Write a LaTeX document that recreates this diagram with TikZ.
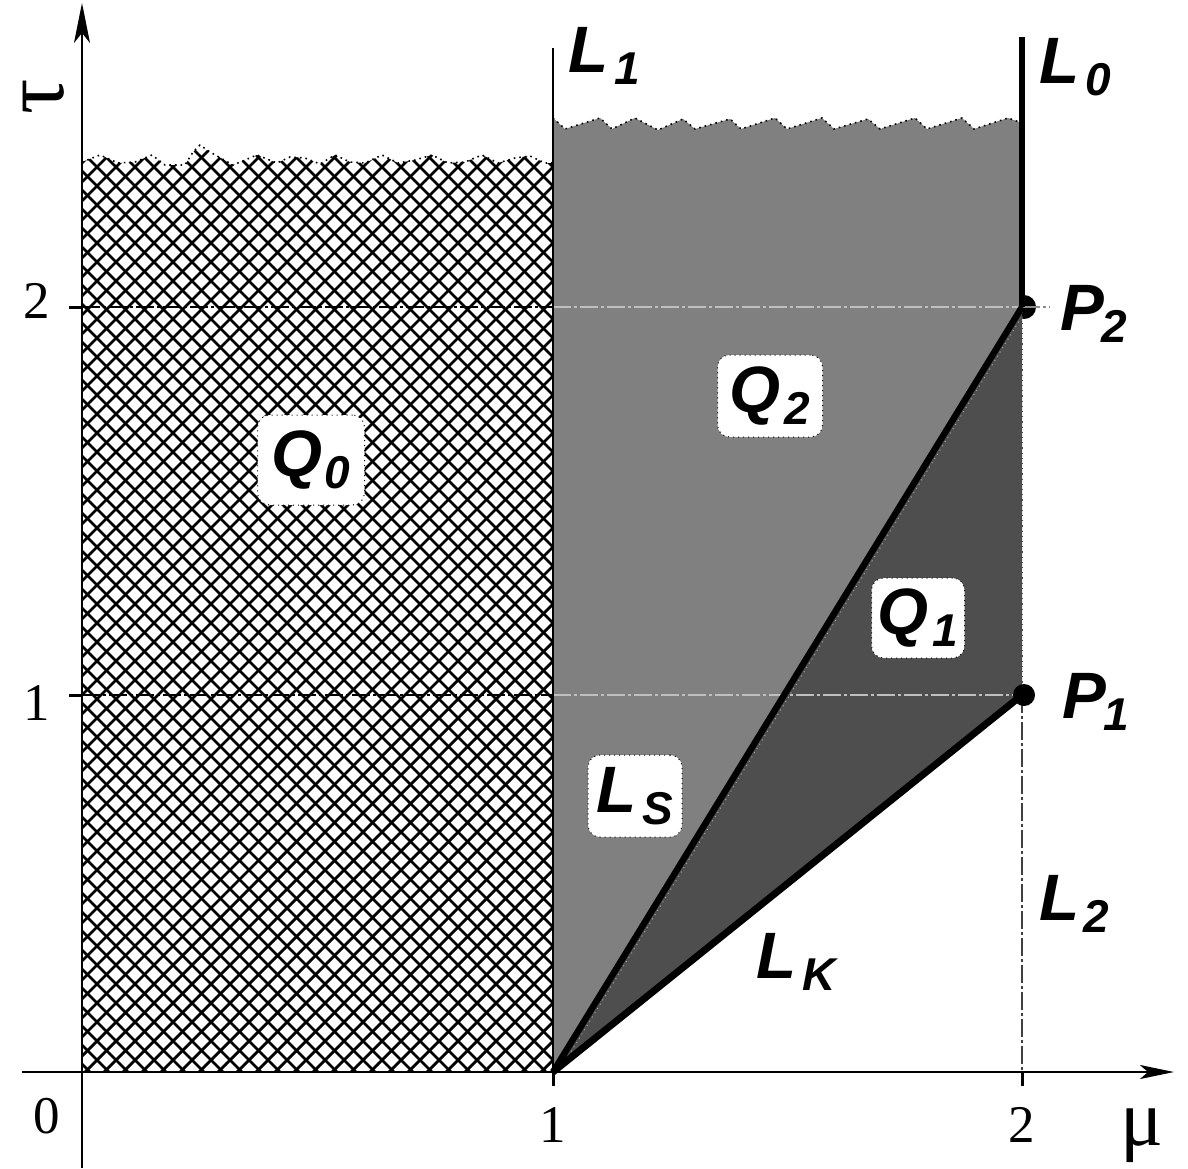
\documentclass[tikz,border=0pt]{standalone}
\usepackage{fontspec}
\setmainfont{Liberation Serif}
\newfontfamily\lsans{Liberation Sans}
\usetikzlibrary{arrows.meta}
\newcommand\lbl[3][2.5pt]{{\lsans\bfseries\itshape\fontsize{32.8}{36}\selectfont #2\hspace{#1}\raisebox{-6pt}{\fontsize{23}{26}\selectfont #3}}}
\definecolor{midgray}{RGB}{128,128,128}
\definecolor{darkgray}{RGB}{78,78,78}
\tikzset{
  hatchline/.style={line width=1.4pt,black},
  qbox/.style={fill=white,draw=black,dotted,line width=0.5pt,rounded corners=6pt,inner sep=0pt,align=center},
  lbltext/.style={anchor=base west,inner sep=0pt},
  ticklbl/.style={anchor=base,inner sep=0pt,font=\fontsize{26.5}{30}\selectfont},
  thickline/.style={line width=3.2pt,black},
  levelline/.style={line width=0.75pt,dash pattern=on 9pt off 1.5pt on 1.5pt off 1.5pt},
  axisline/.style={line width=1pt,black},
  tickmark/.style={line width=1.5pt,black},
}
\begin{document}
\begin{tikzpicture}[x=0.5pt,y=-0.5pt]
\useasboundingbox (0,0) rectangle (1188,1168);
% named points
\coordinate (O) at (82,1072);
\coordinate (A1) at (553,1072);
\coordinate (A2) at (1022,1072);
\coordinate (P1) at (1022,695);
\coordinate (P2) at (1022,307);
\coordinate (L1top) at (553,48);
\coordinate (L0top) at (1022,37);
\coordinate (L2bot) at (1022,1085);
\coordinate (T1) at (82,695);
\coordinate (T2) at (82,307);
\coordinate (T1e) at (1022,695);
\coordinate (T2e) at (1050,307);
\coordinate (T1m) at (553,695);
\coordinate (T2m) at (553,307);
\coordinate (E1) at (566,1060);
\coordinate (E2) at (1021,318);

% Q0 hatched region
\begin{scope}
\clip (82,1072) -- plot coordinates {(82,162) (100,155) (118,163) (135,162) (152,155) (165,165) (185,165) (193,152) (200,145) (210,152) (233,165) (257,155) (277,163) (290,157) (305,158) (320,164) (335,155) (350,162) (365,163) (382,155) (398,163) (415,160) (432,155) (448,163) (465,162) (482,155) (498,163) (515,158) (530,156) (545,163) (553,163)} -- (553,1072) -- cycle;
\foreach \a in {-922,-903,...,560} {
  \draw[hatchline] (\a,1072) -- ++(1000,-1000);
}
\foreach \a in {-929,-910,...,560} {
  \draw[hatchline] (\a,72) -- ++(1000,1000);
}
\end{scope}
\draw[dotted,line width=0.8pt] plot coordinates {(82,162) (100,155) (118,163) (135,162) (152,155) (165,165) (185,165) (193,152) (200,145) (210,152) (233,165) (257,155) (277,163) (290,157) (305,158) (320,164) (335,155) (350,162) (365,163) (382,155) (398,163) (415,160) (432,155) (448,163) (465,162) (482,155) (498,163) (515,158) (530,156) (545,163) (553,163)};

% P2 dot (partly covered)
\fill[black] (1024,307) circle (12);

% Q2 gray region
\fill[midgray] (A1) -- plot coordinates {(553,118) (565,129) (600,118) (612,129) (635,118) (658,130) (683,119) (695,129) (730,119) (741,129) (775,118) (787,129) (822,118) (834,129) (868,119) (880,129) (915,118) (927,129) (962,118) (974,129) (1008,118) (1022,123)} -- (P2) -- cycle;
\draw[dotted,line width=0.8pt] plot coordinates {(553,118) (565,129) (600,118) (612,129) (635,118) (658,130) (683,119) (695,129) (730,119) (741,129) (775,118) (787,129) (822,118) (834,129) (868,119) (880,129) (915,118) (927,129) (962,118) (974,129) (1008,118) (1022,123)};

% Q1 dark region
\fill[darkgray] (A1) -- (P2) -- (P1) -- cycle;
\draw[dotted,line width=0.5pt,black!35] (E1) -- (E2);

% level lines
\draw[levelline,black] (T2) -- (T2m);
\draw[levelline,black!25] (T2m) -- (P2);
\draw[levelline,black!45] (P2) -- (T2e);
\draw[levelline,black] (T1) -- (T1m);
\draw[levelline,black!25] (T1m) -- (T1e);

% thin lines
\draw[line width=0.8pt,black] (L1top) -- (A1);
\draw[line width=0.7pt,black!75,dash pattern=on 9pt off 1.5pt on 1.5pt off 1.5pt] (P1) -- (L2bot);
\draw[line width=0.6pt,black!70,dotted] (P2) -- (P1);

% thick lines
\draw[thickline] (A1) -- (P2);
\draw[thickline,line width=3.5pt] (A1) -- (P1);
\draw[thickline,line width=3pt] (L0top) -- (P2);

% axes
\draw[axisline,-{Stealth[length=20pt,width=8pt,inset=5pt]}] (82,1168) -- (82,3);
\draw[axisline,line width=1.2pt,-{Stealth[length=17pt,width=7pt,inset=4pt]}] (22,1072) -- (1174,1072);
\draw[tickmark] (A1) -- (553,1086);
\draw[tickmark] (A2) -- (1022,1086);
\draw[tickmark] (T2) -- (69,307);
\draw[tickmark] (T1) -- (69,695);

% P1 dot
\fill[black] (1024,695) circle (11);

% tick labels
\node[ticklbl] (n0) at (47,1133) {0};
\node[ticklbl] (n1) at (553,1142) {1};
\node[ticklbl] (n2) at (1022,1142) {2};
\node[ticklbl] (m2) at (37,318) {2};
\node[ticklbl] (m1) at (37,720) {1};
\node[anchor=base,inner sep=0pt,font=\fontsize{40}{44}\selectfont] (mu) at (1142,1145) {μ};
\node[inner sep=0pt,rotate=90,anchor=base,text height=0.48em,text depth=0pt,font=\fontsize{44}{48}\selectfont] (tau) at (63,97) {τ};

% curve labels
\node[lbltext] (lL1) at (568,72) {\lbl[3pt]{L}{1}};
\node[lbltext] (lL0) at (1039,83) {\lbl[3pt]{L}{0}};
\node[lbltext] (lP2) at (1060,330) {\lbl[-1.5pt]{P}{2}};
\node[lbltext] (lP1) at (1062,718) {\lbl[-1.5pt]{P}{1}};
\node[lbltext] (lL2) at (1039,920) {\lbl[2pt]{L}{2}};
\node[lbltext] (lLK) at (756,978) {\lbl[3pt]{L}{K}};

% boxed labels
\node[qbox,minimum width=53.5pt,minimum height=45pt] (q0) at (311,460) {\lbl[1pt]{Q}{0}};
\node[qbox,minimum width=52.5pt,minimum height=41pt] (q2) at (770,396) {\lbl[2pt]{Q}{2}};
\node[qbox,minimum width=46.5pt,minimum height=40pt] (q1) at (918,618) {\lbl[2pt]{Q}{1}};
\node[qbox,minimum width=47pt,minimum height=41pt] (ls) at (635,796) {\lbl[3pt]{L}{S}};
\end{tikzpicture}
\end{document}
